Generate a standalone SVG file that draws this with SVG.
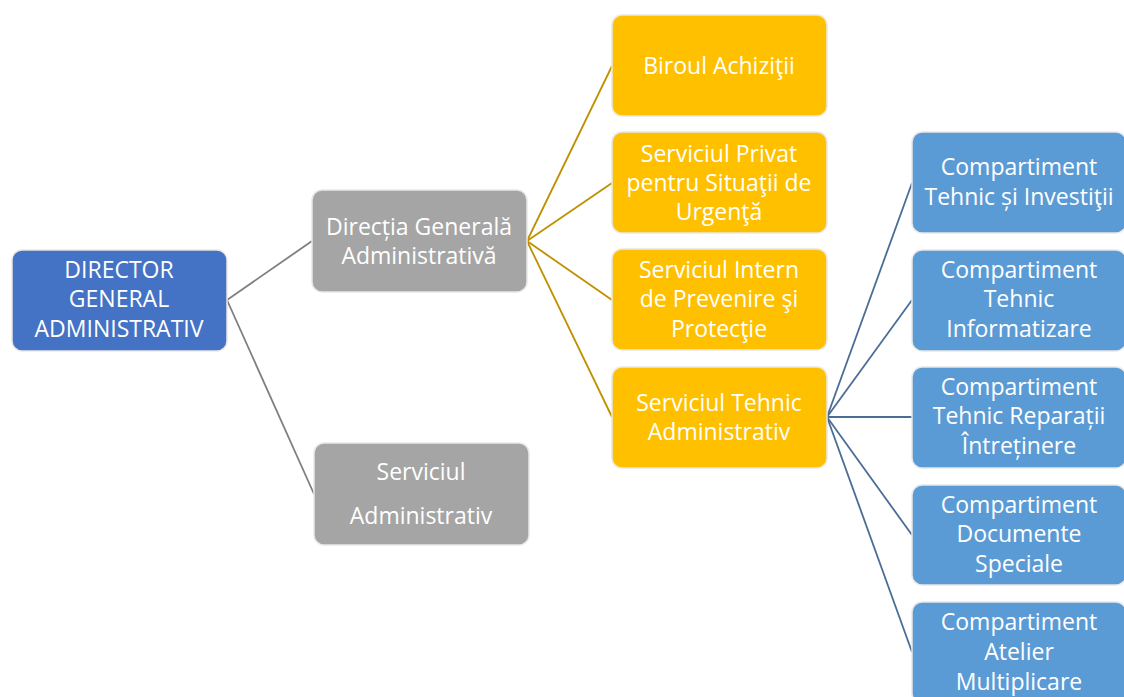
<svg xmlns="http://www.w3.org/2000/svg" width="1124" height="697" viewBox="0 0 1124 697">
<style>
.box{stroke:#e8e8e8;stroke-width:1.5}
.t{font-family:"Open Sans",Lato,"Liberation Sans",sans-serif;font-size:23px;fill:#ffffff;text-anchor:middle}
.c1{stroke:#7f7f7f;stroke-width:1.8;fill:none}
.c2{stroke:#bf9000;stroke-width:1.8;fill:none}
.c3{stroke:#4a6d96;stroke-width:1.8;fill:none}
.db{fill:#4472c4}.gr{fill:#a5a5a5}.ye{fill:#ffc000}.lb{fill:#5b9bd5}
</style>
<rect width="1124" height="697" fill="#ffffff"/>
<g id="connectors">
<line class="c1" x1="227" y1="300" x2="312" y2="241"/>
<line class="c1" x1="227" y1="300" x2="314" y2="494"/>
<line class="c2" x1="527" y1="241" x2="612" y2="66"/>
<line class="c2" x1="527" y1="241" x2="612" y2="183"/>
<line class="c2" x1="527" y1="241" x2="612" y2="300"/>
<line class="c2" x1="527" y1="241" x2="612" y2="417"/>
<line class="c3" x1="827" y1="417" x2="912" y2="183"/>
<line class="c3" x1="827" y1="417" x2="912" y2="300"/>
<line class="c3" x1="827" y1="417" x2="912" y2="417"/>
<line class="c3" x1="827" y1="417" x2="912" y2="535"/>
<line class="c3" x1="827" y1="417" x2="912" y2="652"/>
</g>
<g id="n-director">
<rect class="box db" x="12" y="250" width="215" height="101" rx="10"/>
<text class="t" x="119" y="278">DIRECTOR</text>
<text class="t" x="119" y="307">GENERAL</text>
<text class="t" x="119" y="337">ADMINISTRATIV</text>
</g>
<g id="n-directia">
<rect class="box gr" x="312" y="190" width="215" height="102" rx="10"/>
<text class="t" x="419" y="235">Direcția Generală</text>
<text class="t" x="419" y="264">Administrativă</text>
</g>
<g id="n-servadmin">
<rect class="box gr" x="314" y="443" width="215" height="102" rx="10"/>
<text class="t" x="421" y="480">Serviciul</text>
<text class="t" x="421" y="524">Administrativ</text>
</g>
<g id="n-biroul">
<rect class="box ye" x="612" y="15" width="215" height="101" rx="10"/>
<text class="t" x="719" y="74">Biroul Achiziţii</text>
</g>
<g id="n-privat">
<rect class="box ye" x="612" y="132" width="215" height="101" rx="10"/>
<text class="t" x="719" y="162">Serviciul Privat</text>
<text class="t" x="719" y="191">pentru Situaţii de</text>
<text class="t" x="719" y="220">Urgenţă</text>
</g>
<g id="n-intern">
<rect class="box ye" x="612" y="249" width="215" height="101" rx="10"/>
<text class="t" x="719" y="278">Serviciul Intern</text>
<text class="t" x="719" y="307">de Prevenire şi</text>
<text class="t" x="719" y="337">Protecţie</text>
</g>
<g id="n-tehnic">
<rect class="box ye" x="612" y="367" width="215" height="101" rx="10"/>
<text class="t" x="719" y="411">Serviciul Tehnic</text>
<text class="t" x="719" y="440">Administrativ</text>
</g>
<g id="n-investitii">
<rect class="box lb" x="912" y="132" width="214" height="101" rx="10"/>
<text class="t" x="1019" y="175">Compartiment</text>
<text class="t" x="1019" y="205">Tehnic și Investiţii</text>
</g>
<g id="n-informatizare">
<rect class="box lb" x="912" y="250" width="214" height="101" rx="10"/>
<text class="t" x="1019" y="278">Compartiment</text>
<text class="t" x="1019" y="307">Tehnic</text>
<text class="t" x="1019" y="337">Informatizare</text>
</g>
<g id="n-reparatii">
<rect class="box lb" x="912" y="367" width="214" height="101" rx="10"/>
<text class="t" x="1019" y="395">Compartiment</text>
<text class="t" x="1019" y="424">Tehnic Reparații</text>
<text class="t" x="1019" y="454">Întreținere</text>
</g>
<g id="n-documente">
<rect class="box lb" x="912" y="485" width="214" height="100" rx="10"/>
<text class="t" x="1019" y="513">Compartiment</text>
<text class="t" x="1019" y="542">Documente</text>
<text class="t" x="1019" y="572">Speciale</text>
</g>
<g id="n-atelier">
<rect class="box lb" x="912" y="602" width="214" height="101" rx="10"/>
<text class="t" x="1019" y="630">Compartiment</text>
<text class="t" x="1019" y="660">Atelier</text>
<text class="t" x="1019" y="690">Multiplicare</text>
</g>
</svg>
